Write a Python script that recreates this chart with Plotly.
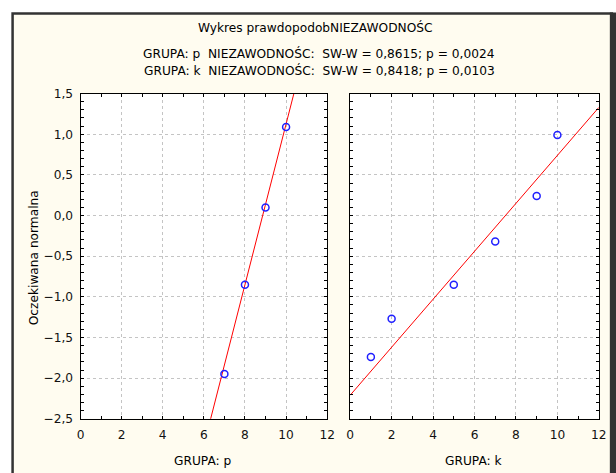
import plotly.graph_objects as go

# --- data ---
p_x = [7, 8, 9, 10]
p_y = [-1.95, -0.85, 0.10, 1.09]
k_x = [1, 2, 5, 7, 9, 10]
k_y = [-1.74, -1.27, -0.85, -0.32, 0.24, 0.99]
p_line_intercept, p_line_slope = -8.754, 0.988
k_line_intercept, k_line_slope = -2.21, 0.295
line_x = [0, 12]
x_ticks = [0, 2, 4, 6, 8, 10, 12]
y_ticks = [1.5, 1.0, 0.5, 0.0, -0.5, -1.0, -1.5, -2.0, -2.5]

title = "Wykres prawdopodobNIEZAWODNOŚC"
sub1 = "GRUPA: p\u00a0\u00a0NIEZAWODNOŚC:\u00a0\u00a0SW-W = 0,8615; p = 0,0024"
sub2 = "GRUPA: k\u00a0\u00a0NIEZAWODNOŚC:\u00a0\u00a0SW-W = 0,8418; p = 0,0103"
ylabel = "Oczekiwana normalna"
xlabel_p = "GRUPA: p"
xlabel_k = "GRUPA: k"

FONT = "DejaVu Sans, Verdana, sans-serif"
FS = 12.2
RED = "#ff0000"
BLUE = "#2020ff"

# screen-pixel -> page-pixel compensation (observed render scale)
SC, OFF = 0.982, 3.4
W, H = 624, 478

def L(s):
    return (s - OFF) / SC

def px(s):
    return L(s) / W

def py(s):
    return 1 - L(s) / H

fig = go.Figure()

marker = dict(symbol="circle-open", size=7, color=BLUE, line=dict(width=1.5, color=BLUE))

fig.add_trace(go.Scatter(x=line_x, y=[p_line_intercept + p_line_slope * v for v in line_x],
                         mode="lines", line=dict(color=RED, width=1), xaxis="x", yaxis="y",
                         showlegend=False, hoverinfo="skip"))
fig.add_trace(go.Scatter(x=p_x, y=p_y, mode="markers", marker=marker,
                         xaxis="x", yaxis="y", showlegend=False))
fig.add_trace(go.Scatter(x=line_x, y=[k_line_intercept + k_line_slope * v for v in line_x],
                         mode="lines", line=dict(color=RED, width=1), xaxis="x2", yaxis="y2",
                         showlegend=False, hoverinfo="skip"))
fig.add_trace(go.Scatter(x=k_x, y=k_y, mode="markers", marker=marker,
                         xaxis="x2", yaxis="y2", showlegend=False))

GRID = "#c4c4c4"
common_x = dict(range=[0, 12], tickvals=x_ticks, showline=True, linecolor="#000", linewidth=1,
                mirror="allticks", ticks="inside", ticklen=3, tickcolor="#000",
                minor=dict(dtick=1, tick0=0, ticks="inside", ticklen=3, tickcolor="#000", showgrid=False),
                showgrid=True, gridcolor=GRID, griddash="dot", gridwidth=1, zeroline=False,
                ticklabelstandoff=5,
                tickfont=dict(family=FONT, size=FS, color="#111"))
common_y = dict(range=[-2.5, 1.5], tickvals=y_ticks, tickformat=".1f", showline=True, linecolor="#000",
                linewidth=1, mirror="allticks", ticks="inside", ticklen=3, tickcolor="#000",
                minor=dict(dtick=0.1, tick0=0, ticks="inside", ticklen=3, tickcolor="#000", showgrid=False),
                showgrid=True, gridcolor=GRID, griddash="dot", gridwidth=1, zeroline=False,
                ticklabelstandoff=4,
                tickfont=dict(family=FONT, size=FS, color="#111"),
                domain=[py(420), py(91)])

def ann(text, x, y, angle=0):
    return dict(text=text, x=px(x), y=py(y), xref="paper", yref="paper", showarrow=False,
                xanchor="center", yanchor="middle", textangle=angle,
                font=dict(family=FONT, size=FS, color="#000"))

annotations = [
    ann(title, 315, 24),
    ann(sub1, 319, 50),
    ann(sub2, 319, 68),
    ann(ylabel, 33, 257, -90),
    ann(xlabel_p, 203, 463),
    ann(xlabel_k, 474, 463),
]

shapes = [
    dict(type="rect", xref="paper", yref="paper", x0=px(12), x1=px(612), y0=py(490), y1=py(10),
         line=dict(color="#333333", width=2.5), fillcolor="#fffcf0", layer="below"),
    dict(type="rect", xref="paper", yref="paper", x0=px(610), x1=px(640), y0=py(490), y1=py(9),
         line=dict(width=0), fillcolor="#333333", layer="below"),
    dict(type="rect", xref="paper", yref="paper", x0=px(80), x1=px(327), y0=py(420), y1=py(91),
         line=dict(width=0), fillcolor="#ffffff", layer="below"),
    dict(type="rect", xref="paper", yref="paper", x0=px(350), x1=px(599), y0=py(420), y1=py(91),
         line=dict(width=0), fillcolor="#ffffff", layer="below"),
]

fig.update_layout(
    width=W, height=H, margin=dict(l=0, r=0, t=0, b=0),
    paper_bgcolor="#ffffff", plot_bgcolor="rgba(0,0,0,0)",
    separators=", ",
    xaxis=dict(**common_x, domain=[px(80), px(327)], anchor="y"),
    yaxis=dict(**common_y, anchor="x"),
    xaxis2=dict(**common_x, domain=[px(350), px(599)], anchor="y2"),
    yaxis2=dict(**common_y, anchor="x2", showticklabels=False),
    annotations=annotations, shapes=shapes,
)

fig.write_html("out.html",
               config={"displayModeBar": False, "responsive": False},
               post_script="document.body.style.margin='0';document.body.style.padding='0';"
                           "document.documentElement.style.overflow='hidden';")
